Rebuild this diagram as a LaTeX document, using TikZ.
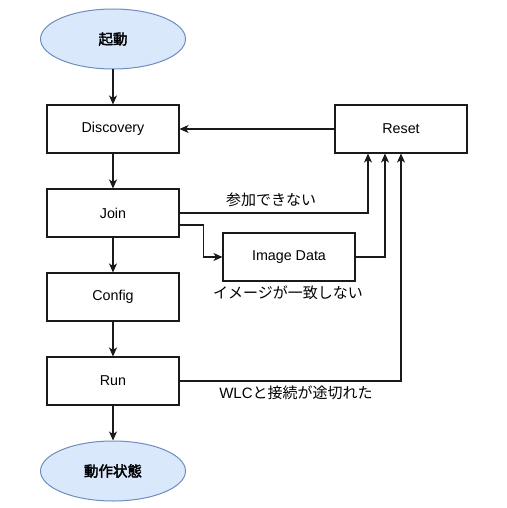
\documentclass[tikz,border=0pt]{standalone}
\usepackage{fontspec}
\setmainfont{Liberation Sans}
\newfontfamily\jp{Noto Sans CJK JP}
\newfontfamily\jpb{Noto Sans CJK JP}[FakeBold=2.5]
\usetikzlibrary{arrows.meta,shapes.geometric}
\definecolor{termfill}{HTML}{DAE8FC}
\definecolor{termdraw}{HTML}{6C8EBF}
\definecolor{linec}{HTML}{1A1A1A}
\tikzset{
  term/.style={ellipse, draw=termdraw, fill=termfill, line width=1pt,
    minimum width=145pt, minimum height=60pt, inner sep=0pt,
    font=\fontsize{14.5}{16}\jpb},
  stepbox/.style={rectangle, draw=linec, line width=1.1pt,
    minimum width=132pt, minimum height=48pt, inner sep=0pt,
    font=\fontsize{14.3}{16}\selectfont},
  lbl/.style={inner sep=0pt, font=\fontsize{15}{17}\jp},
  arr/.style={draw=linec, line width=1.1pt,
    -{Stealth[length=9pt,width=8pt,inset=2.5pt]}}
}
\begin{document}
\begin{tikzpicture}[x=1pt,y=-1pt]
\useasboundingbox (0,0) rectangle (506,508);
\node[term] (start) at (113,39) {起動};
\node[stepbox] (disc) at (113,129) {Discovery};
\node[stepbox] (join) at (113,213) {Join};
\node[stepbox] (conf) at (113,297) {Config};
\node[stepbox] (run) at (113,381) {Run};
\node[term] (end) at (113,471) {動作状態};
\node[stepbox] (reset) at (401,129) {Reset};
\node[stepbox] (img) at (289,257) {Image Data};

\draw[arr] (start) -- (disc);
\draw[arr] (disc) -- (join);
\draw[arr] (join) -- (conf);
\draw[arr] (conf) -- (run);
\draw[arr] (run) -- (end);
\draw[arr] (reset) -- (disc);
\draw[arr] (join.east) -| ([xshift=-33pt]reset.south);
\draw[arr] ([yshift=-12pt]join.east) -- ++(24,0) |- (img.west);
\draw[arr] (img.east) -| ([xshift=-16pt]reset.south);
\draw[arr] (run.east) -| (reset.south);

\node[lbl] (l1) at (271,200) {参加できない};
\node[lbl] (l2) at (288,293) {イメージが一致しない};
\node[lbl] (l3) at (296,393) {{\fontsize{15}{17}\rmfamily WLC}と接続が途切れた};
\end{tikzpicture}
\end{document}
